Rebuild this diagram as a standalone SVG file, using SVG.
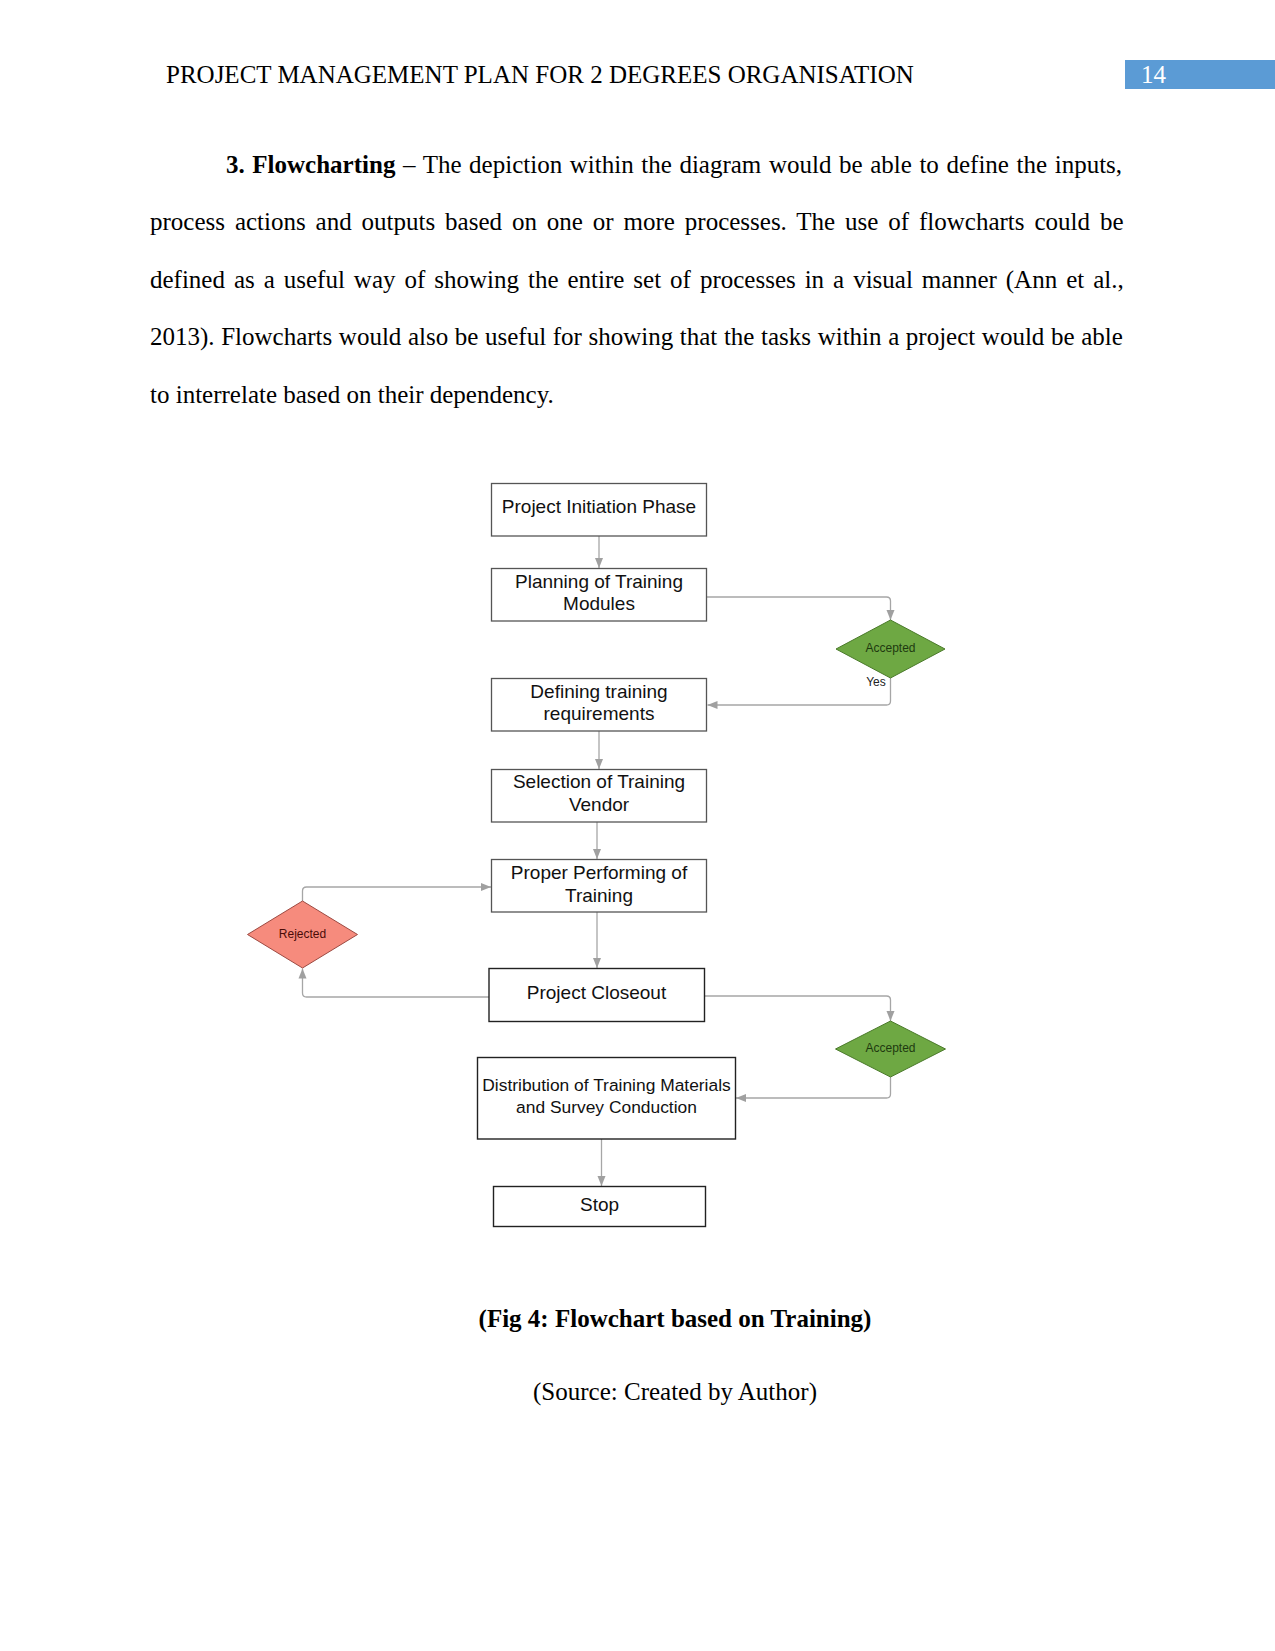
<svg xmlns="http://www.w3.org/2000/svg" width="1275" height="1651" viewBox="0 0 1275 1651">
<style>
.page{font-family:"Liberation Serif","Times New Roman",serif;font-size:25px;fill:#000}
.box{fill:#fff;stroke:#555;stroke-width:1.3}
.boxd{fill:#fff;stroke:#222;stroke-width:1.4}
.lbl{font-family:"Liberation Sans",Arial,sans-serif;font-size:19px;fill:#111;text-anchor:middle}
.small{font-family:"Liberation Sans",Arial,sans-serif;font-size:12px;text-anchor:middle}
.acc{fill:#6ea843;stroke:#4a7a2a;stroke-width:1}
.rej{fill:#f68b7d;stroke:#9c4a42;stroke-width:1}
.con{fill:none;stroke:#a6a6a6;stroke-width:1.3}
</style>
<defs>
<marker id="arr" markerUnits="userSpaceOnUse" markerWidth="10" markerHeight="10" viewBox="0 0 10 10" refX="10" refY="5" orient="auto">
<path d="M0,1 L10,5 L0,9 Z" fill="#a0a0a0"/>
</marker>
</defs>
<rect width="1275" height="1651" fill="#fff"/>

<g id="header">
<text class="page" x="166" y="83">PROJECT MANAGEMENT PLAN FOR 2 DEGREES ORGANISATION</text>
<rect x="1125" y="60" width="150" height="29" fill="#5b9bd5"/>
<text class="page" x="1141" y="83" fill="#fff" style="fill:#fff">14</text>
</g>

<g id="paragraph">
<text class="page" x="226" y="173" word-spacing="1.35"><tspan font-weight="bold">3. Flowcharting</tspan> – The depiction within the diagram would be able to define the inputs,</text>
<text class="page" x="150" y="230" word-spacing="3.65">process actions and outputs based on one or more processes. The use of flowcharts could be</text>
<text class="page" x="150" y="288" word-spacing="2.72">defined as a useful way of showing the entire set of processes in a visual manner (Ann et al.,</text>
<text class="page" x="150" y="345" word-spacing="0.35">2013). Flowcharts would also be useful for showing that the tasks within a project would be able</text>
<text class="page" x="150" y="403">to interrelate based on their dependency.</text>
</g>

<g id="connectors">
<path class="con" d="M599,536 V568" marker-end="url(#arr)"/>
<path class="con" d="M706.5,597 H886.5 Q890.5,597 890.5,601 V620" marker-end="url(#arr)"/>
<path class="con" d="M890.5,678 V701 Q890.5,705 886.5,705 H707.5" marker-end="url(#arr)"/>
<path class="con" d="M599,731 V769" marker-end="url(#arr)"/>
<path class="con" d="M597,822 V859" marker-end="url(#arr)"/>
<path class="con" d="M597,912 V968" marker-end="url(#arr)"/>
<path class="con" d="M489,997 H306.5 Q302.5,997 302.5,993 V968.5" marker-end="url(#arr)"/>
<path class="con" d="M302.5,901 V891 Q302.5,887 306.5,887 H491" marker-end="url(#arr)"/>
<path class="con" d="M704.5,996 H886.5 Q890.5,996 890.5,1000 V1021" marker-end="url(#arr)"/>
<path class="con" d="M890.5,1077 V1094 Q890.5,1098 886.5,1098 H736" marker-end="url(#arr)"/>
<path class="con" d="M601.5,1139 V1186" marker-end="url(#arr)"/>
<text class="small" x="876" y="686" fill="#222">Yes</text>
</g>

<g id="n-initiation">
<rect class="box" x="491.5" y="483.5" width="215" height="52.5"/>
<text class="lbl" x="599" y="513">Project Initiation Phase</text>
</g>
<g id="n-planning">
<rect class="box" x="491.5" y="568.5" width="215" height="52.5"/>
<text class="lbl" x="599" y="587.5">Planning of Training</text>
<text class="lbl" x="599" y="610">Modules</text>
</g>
<g id="n-accepted1">
<polygon class="acc" points="890.5,620 945,649 890.5,678 836,649"/>
<text class="small" x="890.5" y="652" fill="#1e3a10">Accepted</text>
</g>
<g id="n-defining">
<rect class="box" x="491.5" y="678.5" width="215" height="52.5"/>
<text class="lbl" x="599" y="697.5">Defining training</text>
<text class="lbl" x="599" y="720">requirements</text>
</g>
<g id="n-selection">
<rect class="box" x="491.5" y="769.5" width="215" height="52.5"/>
<text class="lbl" x="599" y="788">Selection of Training</text>
<text class="lbl" x="599" y="810.5">Vendor</text>
</g>
<g id="n-performing">
<rect class="box" x="491.5" y="859.5" width="215" height="52.5"/>
<text class="lbl" x="599" y="879">Proper Performing of</text>
<text class="lbl" x="599" y="902">Training</text>
</g>
<g id="n-rejected">
<polygon class="rej" points="302.5,901 357.5,934.5 302.5,968 247.5,934.5"/>
<text class="small" x="302.5" y="938" fill="#4a0c08">Rejected</text>
</g>
<g id="n-closeout">
<rect class="boxd" x="489" y="968.5" width="215.5" height="53"/>
<text class="lbl" x="596.5" y="999">Project Closeout</text>
</g>
<g id="n-accepted2">
<polygon class="acc" points="890.5,1021 945.5,1049 890.5,1077 835.5,1049"/>
<text class="small" x="890.5" y="1052" fill="#1e3a10">Accepted</text>
</g>
<g id="n-distribution">
<rect class="boxd" x="477.5" y="1057.5" width="258" height="81.5"/>
<text class="lbl" x="606.5" y="1091" style="font-size:17.4px">Distribution of Training Materials</text>
<text class="lbl" x="606.5" y="1112.5" style="font-size:17.4px">and Survey Conduction</text>
</g>
<g id="n-stop">
<rect class="boxd" x="493.5" y="1186.5" width="212" height="40"/>
<text class="lbl" x="599.5" y="1211">Stop</text>
</g>

<g id="caption">
<text class="page" x="675" y="1327" text-anchor="middle" font-weight="bold">(Fig 4: Flowchart based on Training)</text>
<text class="page" x="675" y="1400" text-anchor="middle">(Source: Created by Author)</text>
</g>
</svg>
